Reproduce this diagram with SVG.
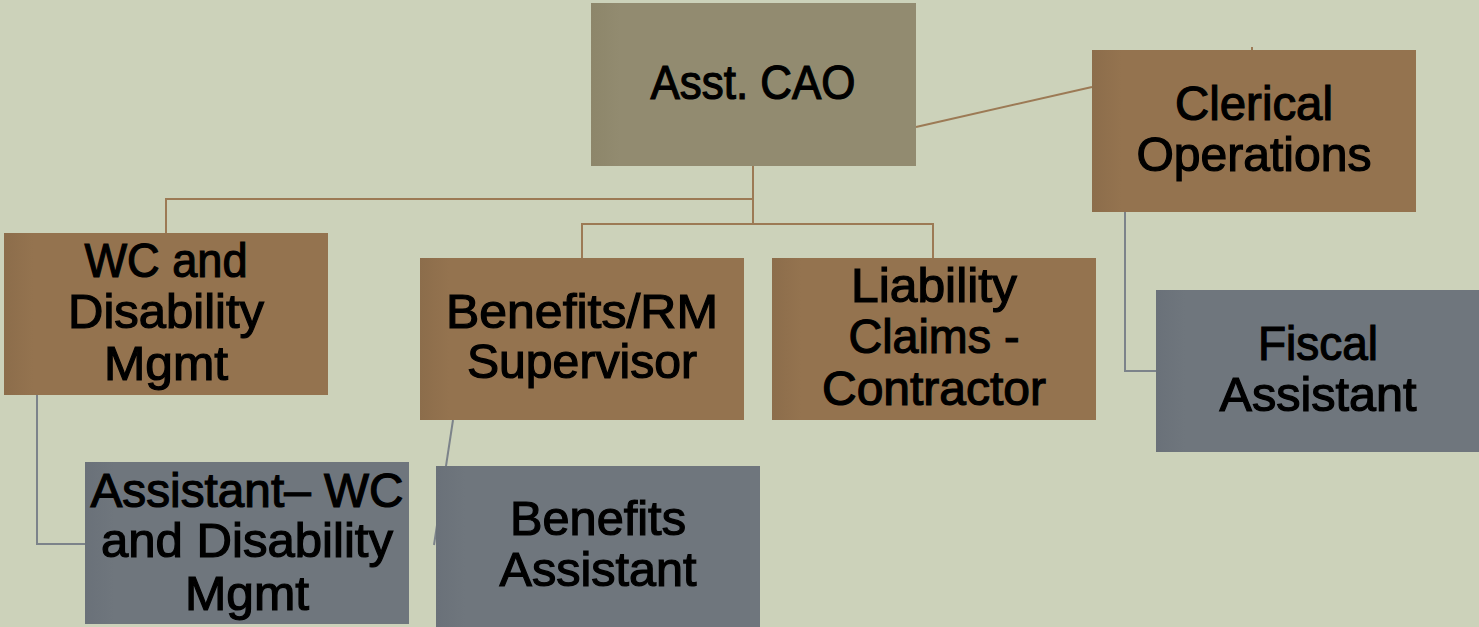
<svg xmlns="http://www.w3.org/2000/svg" width="1479" height="627" viewBox="0 0 1479 627">
  <defs>
    <linearGradient id="gBrown" x1="0" y1="0" x2="1" y2="0">
      <stop offset="0" stop-color="#8c6d4b"/>
      <stop offset="0.09" stop-color="#94734f"/>
      <stop offset="1" stop-color="#94734f"/>
    </linearGradient>
    <linearGradient id="gTop" x1="0" y1="0" x2="1" y2="0">
      <stop offset="0" stop-color="#8d866a"/>
      <stop offset="0.09" stop-color="#928b70"/>
      <stop offset="1" stop-color="#928b70"/>
    </linearGradient>
    <linearGradient id="gGray" x1="0" y1="0" x2="1" y2="0">
      <stop offset="0" stop-color="#6a7179"/>
      <stop offset="0.09" stop-color="#6f767d"/>
      <stop offset="1" stop-color="#6f767d"/>
    </linearGradient>
    <style>
      .lbl { font-family: "Liberation Sans", Arial, sans-serif; font-size: 48px; fill: #000; stroke: #000; stroke-width: 1.2; text-anchor: middle; }
      .brown { fill: url(#gBrown); }
      .top { fill: url(#gTop); }
      .gray { fill: url(#gGray); }
      .cb { fill: none; stroke: #9c7a55; stroke-width: 2; }
      .cg { fill: none; stroke: #7c838a; stroke-width: 2; }
    </style>
  </defs>

  <rect width="1479" height="627" fill="#ccd2ba"/>

  <g id="connectors">
    <polyline class="cb" points="753,166 753,224"/>
    <polyline class="cb" points="753,199 166,199 166,233"/>
    <polyline class="cb" points="582,258 582,224 933,224 933,258"/>
    <line class="cb" x1="916" y1="127" x2="1092" y2="87"/>
    <line class="cb" x1="1252" y1="47" x2="1252" y2="60"/>
    <polyline class="cg" points="1125,211 1125,371 1156,371"/>
    <polyline class="cg" points="37,395 37,544 85,544"/>
    <line class="cg" x1="453" y1="420" x2="434" y2="545"/>
  </g>

  <g id="node-asst-cao">
    <rect class="top" x="591" y="3" width="325" height="163"/>
    <text class="lbl" x="753" y="99" textLength="205" lengthAdjust="spacingAndGlyphs">Asst. CAO</text>
  </g>

  <g id="node-clerical">
    <rect class="brown" x="1092" y="50" width="324" height="162"/>
    <text class="lbl" x="1254" y="120" textLength="158" lengthAdjust="spacingAndGlyphs">Clerical</text>
    <text class="lbl" x="1254" y="171" textLength="235" lengthAdjust="spacingAndGlyphs">Operations</text>
  </g>

  <g id="node-wc">
    <rect class="brown" x="4" y="233" width="324" height="162"/>
    <text class="lbl" x="166" y="277" textLength="163" lengthAdjust="spacingAndGlyphs">WC and</text>
    <text class="lbl" x="166" y="328" textLength="196" lengthAdjust="spacingAndGlyphs">Disability</text>
    <text class="lbl" x="166" y="380" textLength="124" lengthAdjust="spacingAndGlyphs">Mgmt</text>
  </g>

  <g id="node-benefits-rm">
    <rect class="brown" x="420" y="258" width="324" height="162"/>
    <text class="lbl" x="582" y="328" textLength="272" lengthAdjust="spacingAndGlyphs">Benefits/RM</text>
    <text class="lbl" x="582" y="378" textLength="230" lengthAdjust="spacingAndGlyphs">Supervisor</text>
  </g>

  <g id="node-liability">
    <rect class="brown" x="772" y="258" width="324" height="162"/>
    <text class="lbl" x="934" y="302" textLength="166" lengthAdjust="spacingAndGlyphs">Liability</text>
    <text class="lbl" x="934" y="353" textLength="171" lengthAdjust="spacingAndGlyphs">Claims -</text>
    <text class="lbl" x="934" y="405" textLength="224" lengthAdjust="spacingAndGlyphs">Contractor</text>
  </g>

  <g id="node-fiscal">
    <rect class="gray" x="1156" y="290" width="323" height="162"/>
    <text class="lbl" x="1318" y="360" textLength="120" lengthAdjust="spacingAndGlyphs">Fiscal</text>
    <text class="lbl" x="1318" y="411" textLength="197" lengthAdjust="spacingAndGlyphs">Assistant</text>
  </g>

  <g id="node-assistant-wc">
    <rect class="gray" x="85" y="462" width="324" height="162"/>
    <text class="lbl" x="247" y="507" textLength="313" lengthAdjust="spacingAndGlyphs">Assistant– WC</text>
    <text class="lbl" x="247" y="557" textLength="292" lengthAdjust="spacingAndGlyphs">and Disability</text>
    <text class="lbl" x="247" y="610" textLength="124" lengthAdjust="spacingAndGlyphs">Mgmt</text>
  </g>

  <g id="node-benefits-assistant">
    <rect class="gray" x="436" y="466" width="324" height="162"/>
    <text class="lbl" x="598" y="535" textLength="176" lengthAdjust="spacingAndGlyphs">Benefits</text>
    <text class="lbl" x="598" y="586" textLength="197" lengthAdjust="spacingAndGlyphs">Assistant</text>
  </g>
</svg>
